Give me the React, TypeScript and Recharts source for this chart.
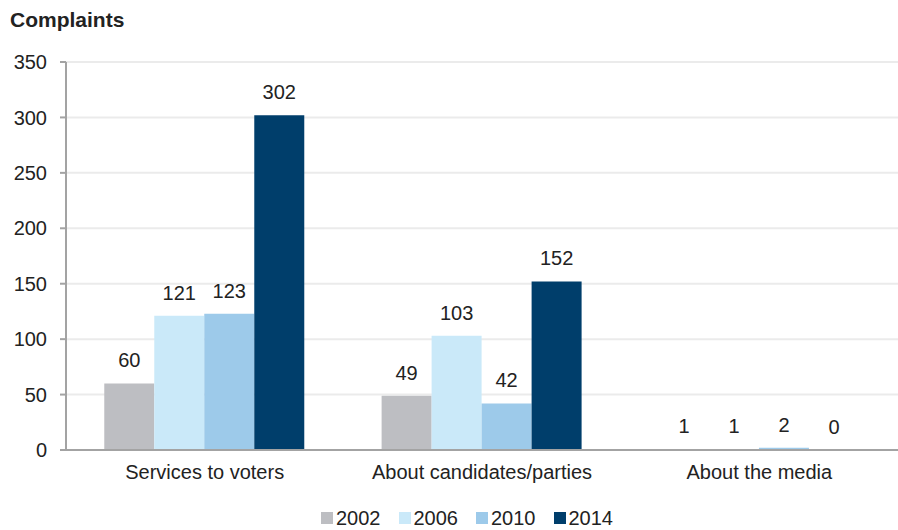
import { BarChart, Bar, XAxis, YAxis, CartesianGrid, Legend, LabelList } from "recharts"

const categories = ["Services to voters", "About candidates/parties", "About the media"]
const v2002 = [60, 49, 1]
const v2006 = [121, 103, 1]
const v2010 = [123, 42, 2]
const v2014 = [302, 152, 0]
const yTicks = [0, 50, 100, 150, 200, 250, 300, 350]

const series = [
  { key: "2002", values: v2002, color: "#bdbec2" },
  { key: "2006", values: v2006, color: "#cae9f9" },
  { key: "2010", values: v2010, color: "#9dcaea" },
  { key: "2014", values: v2014, color: "#003e6b" },
]

const data = categories.map((name, i) => {
  const row: Record<string, string | number> = { name, pos: i }
  series.forEach((s) => (row[s.key] = s.values[i]))
  return row
})

const font = "'Liberation Sans', Arial, sans-serif"
const axisColor = "#a3a3a3"

// legend with tighter icon gap and wider item spacing
const renderLegend = (props: any) => (
  <div style={{ display: "flex", justifyContent: "center", paddingLeft: 54, height: 24, alignItems: "center" }}>
    {(props.payload || []).map((p: any) => (
      <div key={p.value} style={{ display: "flex", alignItems: "center", marginRight: 18 }}>
        <span style={{ width: 12, height: 12, background: p.color, marginRight: 3, display: "inline-block" }} />
        <span style={{ fontSize: 20, color: "#222", lineHeight: "24px" }}>{p.value}</span>
      </div>
    ))}
  </div>
)

export default function App() {
  return (
    <div style={{ position: "absolute", left: 0, top: 0, width: 898, height: 530, fontFamily: font, background: "#fff" }}>
      <div style={{ position: "absolute", left: 10, top: 8, fontSize: 21, fontWeight: "bold", color: "#222" }}>
        Complaints
      </div>
      <BarChart
        width={898}
        height={530}
        data={data}
        margin={{ top: 62, right: 0, left: 0, bottom: 0 }}
        barCategoryGap="13.8%"
        barGap={0}
      >
        <CartesianGrid vertical={false} stroke="#ebebeb" strokeWidth={2} />
        <XAxis
          xAxisId="bounds"
          type="number"
          dataKey="pos"
          domain={[0, 3]}
          ticks={[0, 1, 2, 3]}
          height={0}
          axisLine={false}
          tick={false}
          tickSize={6}
          tickLine={{ stroke: axisColor, strokeWidth: 2 }}
        />
        <XAxis
          dataKey="name"
          tickLine={false}
          axisLine={{ stroke: axisColor, strokeWidth: 2 }}
          tick={{ fill: "#222", fontSize: 20, fontFamily: font }}
          tickMargin={9}
          height={56}
        />
        <YAxis
          domain={[0, 350]}
          ticks={yTicks}
          width={66}
          tickSize={6}
          tickMargin={13}
          axisLine={{ stroke: axisColor, strokeWidth: 2 }}
          tickLine={{ stroke: axisColor, strokeWidth: 2 }}
          tick={{ fill: "#222", fontSize: 20, fontFamily: font }}
          interval={0}
        />
        <Legend verticalAlign="bottom" content={renderLegend} />
        {series.map((s) => (
          <Bar key={s.key} dataKey={s.key} fill={s.color} minPointSize={0.3} isAnimationActive={false}>
            <LabelList dataKey={s.key} position="top" offset={16} fill="#222" fontSize={20} fontFamily={font} />
          </Bar>
        ))}
      </BarChart>
    </div>
  )
}
